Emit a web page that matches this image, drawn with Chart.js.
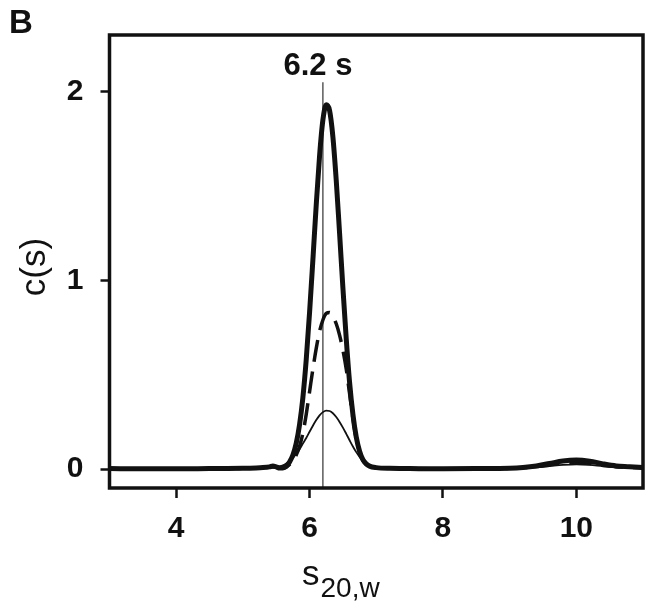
<!DOCTYPE html>
<html>
<head>
<meta charset="utf-8">
<script src="https://cdn.jsdelivr.net/npm/chart.js@4/dist/chart.umd.min.js"></script>
<style>
  html, body { margin: 0; padding: 0; background: #fff; }
  #wrap { width: 654px; height: 607px; position: relative; }
</style>
</head>
<body>
<div id="wrap"><canvas id="c"></canvas></div>
<script>
// ---- data ----
const sValues = [3.0, 3.5, 4.0, 4.5, 5.0, 5.2, 5.3, 5.4, 5.45, 5.5, 5.55, 5.6, 5.65, 5.7, 5.75, 5.8, 5.85, 5.9, 5.95, 6.0,
  6.05, 6.1, 6.15, 6.2, 6.25, 6.3, 6.35, 6.4, 6.45, 6.5, 6.55, 6.6, 6.65, 6.7, 6.75, 6.8, 6.85, 6.9, 7.0, 7.2,
  7.5, 8.0, 8.5, 9.0, 9.2, 9.4, 9.6, 9.8, 10.0, 10.2, 10.4, 10.6, 10.8, 11.0];
const thickCs = [0.003, 0.002, 0.002, 0.003, 0.004, 0.006, 0.008, 0.012, 0.016, 0.012, 0.006, 0.006, 0.014, 0.038, 0.075, 0.137, 0.236, 0.38, 0.58, 0.83,
  1.11, 1.40, 1.66, 1.85, 1.93, 1.90, 1.76, 1.53, 1.25, 0.96, 0.69, 0.46, 0.29, 0.17, 0.095, 0.05, 0.028, 0.016, 0.008, 0.004,
  0.003, 0.002, 0.003, 0.005, 0.009, 0.017, 0.03, 0.043, 0.048, 0.042, 0.028, 0.017, 0.013, 0.008];
const dashedCs = [0.002, 0.002, 0.002, 0.003, 0.004, 0.005, 0.007, 0.01, 0.013, 0.01, 0.006, 0.006, 0.012, 0.025, 0.045, 0.075, 0.12, 0.19, 0.29, 0.41,
  0.53, 0.64, 0.73, 0.79, 0.825, 0.83, 0.81, 0.77, 0.71, 0.63, 0.53, 0.40, 0.27, 0.16, 0.09, 0.045, 0.025, 0.014, 0.007, 0.004,
  0.003, 0.002, 0.002, 0.004, 0.007, 0.013, 0.022, 0.031, 0.034, 0.03, 0.02, 0.013, 0.01, 0.006];
const thinCs = [0.002, 0.002, 0.002, 0.002, 0.003, 0.004, 0.005, 0.007, 0.008, 0.01, 0.014, 0.02, 0.03, 0.045, 0.06, 0.08, 0.105, 0.135, 0.165, 0.198,
  0.23, 0.26, 0.285, 0.302, 0.31, 0.308, 0.296, 0.276, 0.25, 0.22, 0.187, 0.153, 0.12, 0.09, 0.065, 0.045, 0.03, 0.02, 0.01, 0.004,
  0.003, 0.002, 0.002, 0.004, 0.006, 0.01, 0.016, 0.022, 0.025, 0.022, 0.015, 0.01, 0.008, 0.005];
const markerS = 6.2;
const markerTop = 2.05;
const markerLabel = '6.2 s';
const xTicks = [4, 6, 8, 10];
const yTicks = [0, 1, 2];
const xRange = [3, 11];
const yRange = [-0.1, 2.3];
const panelLabel = 'B';
const yTitle = 'c(s)';
const xTitleMain = 's';
const xTitleSub = '20,w';

const pts = ys => sValues.map((x, i) => ({ x: x, y: ys[i] }));
const INK = '#111';
const FONT = '"Liberation Sans", Arial, sans-serif';

const overlay = {
  id: 'overlay',
  afterDraw(chart) {
    const ctx = chart.ctx, a = chart.chartArea;
    const xs = chart.scales.x, ys = chart.scales.y;
    ctx.save();
    // frame
    ctx.strokeStyle = INK;
    ctx.lineWidth = 3.5;
    ctx.strokeRect(a.left, a.top, a.right - a.left, a.bottom - a.top);
    ctx.fillStyle = INK;
    // marker label
    ctx.font = 'bold 31px ' + FONT;
    ctx.textAlign = 'center';
    ctx.textBaseline = 'alphabetic';
    ctx.fillText(markerLabel, xs.getPixelForValue(markerS) - 5, ys.getPixelForValue(2.09));
    // panel label
    ctx.font = 'bold 33px ' + FONT;
    ctx.textAlign = 'left';
    ctx.fillText(panelLabel, 9, 33);
    // y title
    ctx.font = '35px ' + FONT;
    ctx.save();
    ctx.translate(45, 267);
    ctx.rotate(-Math.PI / 2);
    ctx.textAlign = 'center';
    ctx.fillText(yTitle, 0, 0);
    ctx.restore();
    // x title with subscript
    ctx.textAlign = 'left';
    ctx.font = '35px ' + FONT;
    const wMain = ctx.measureText(xTitleMain).width;
    const start = 302;
    ctx.fillText(xTitleMain, start, 585);
    ctx.font = '28px ' + FONT;
    ctx.fillText(xTitleSub, start + wMain + 1, 597);
    ctx.restore();
  }
};

new Chart(document.getElementById('c'), {
  type: 'line',
  data: {
    datasets: [
      { data: pts(thickCs), borderColor: INK, borderWidth: 5, pointRadius: 0, cubicInterpolationMode: 'monotone', fill: false },
      { data: pts(dashedCs), borderColor: INK, borderWidth: 3.5, borderDash: [22, 10], pointRadius: 0, cubicInterpolationMode: 'monotone', fill: false },
      { data: pts(thinCs), borderColor: INK, borderWidth: 1.8, pointRadius: 0, cubicInterpolationMode: 'monotone', fill: false },
      { data: [{ x: markerS, y: yRange[0] }, { x: markerS, y: markerTop }], borderColor: '#333', borderWidth: 1.2, pointRadius: 0, fill: false, clip: false }
    ]
  },
  options: {
    responsive: true,
    maintainAspectRatio: false,
    animation: false,
    layout: { padding: { left: 0, right: 11, top: 25, bottom: 0 } },
    plugins: { legend: { display: false }, tooltip: { enabled: false } },
    scales: {
      x: {
        type: 'linear', min: xRange[0], max: xRange[1],
        afterBuildTicks: s => { s.ticks = xTicks.map(v => ({ value: v })); },
        afterFit: s => { s.height = 119; },
        border: { display: false },
        grid: { drawOnChartArea: false, drawTicks: true, tickLength: 10, tickWidth: 2.5, tickColor: INK, color: INK },
        ticks: { color: INK, font: { family: FONT, size: 30, weight: 'bold' }, padding: 13, maxRotation: 0 }
      },
      y: {
        type: 'linear', min: yRange[0], max: yRange[1],
        afterBuildTicks: s => { s.ticks = yTicks.map(v => ({ value: v })); },
        afterFit: s => { s.width = 109.5; },
        border: { display: false },
        grid: { drawOnChartArea: false, drawTicks: true, tickLength: 9, tickWidth: 2.5, tickColor: INK, color: INK },
        ticks: { color: INK, font: { family: FONT, size: 30, weight: 'bold' }, padding: 17 }
      }
    }
  },
  plugins: [overlay]
});
</script>
</body>
</html>
